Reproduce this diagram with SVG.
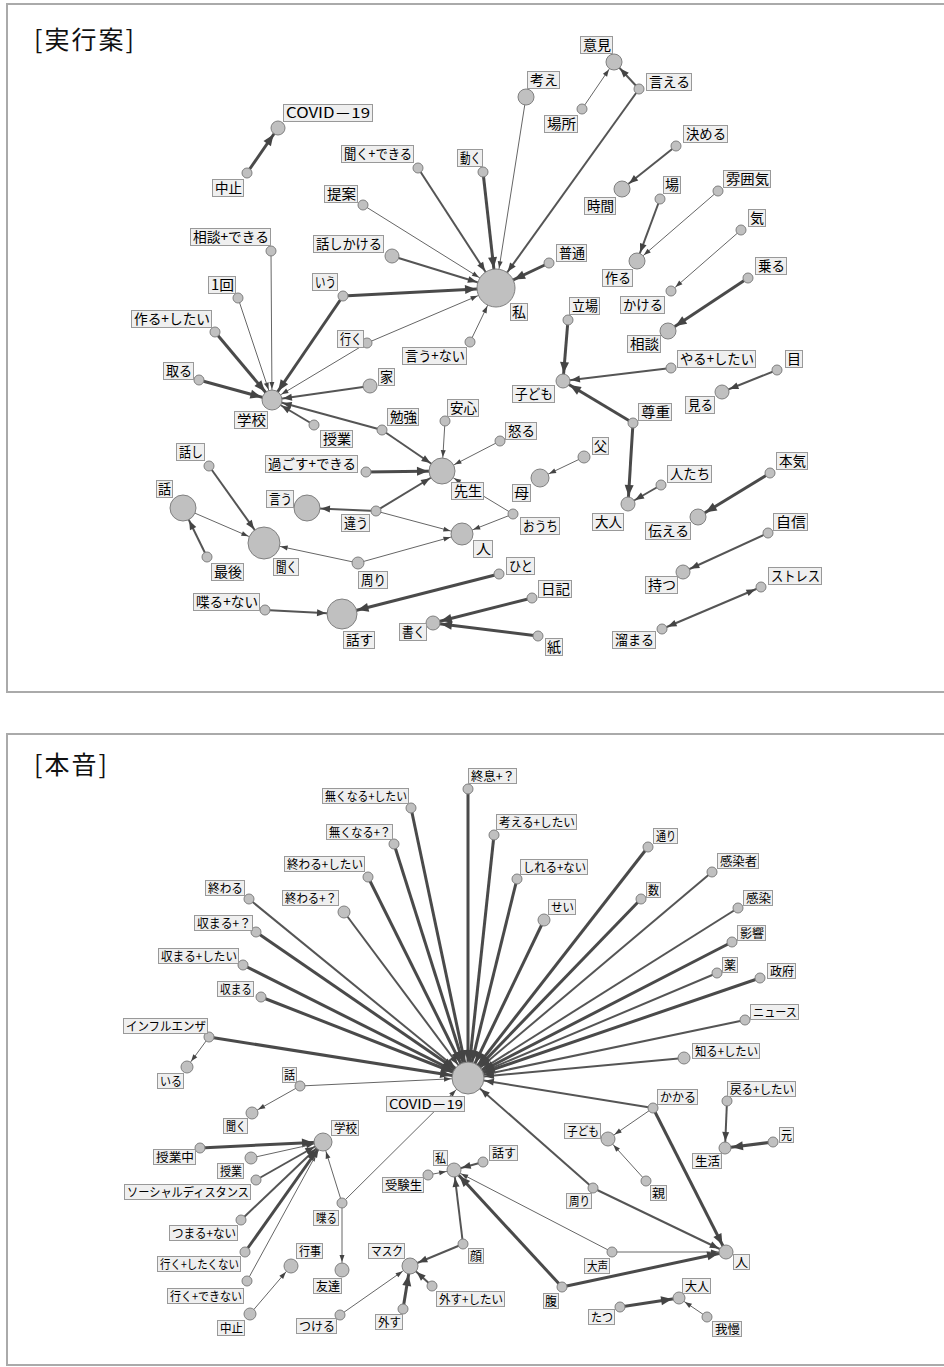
<svg xmlns="http://www.w3.org/2000/svg" width="944" height="1367" viewBox="0 0 944 1367">
<style>
.panel{fill:#fff;stroke:#aaa;stroke-width:2}
.title{font-family:"Noto Sans CJK JP","Noto Sans",sans-serif;font-size:25px;letter-spacing:2px;fill:#111}
.s{stroke:#666;stroke-width:1;fill:none}
.m{stroke:#555;stroke-width:2;fill:none}
.l{stroke:#4a4a4a;stroke-width:3;fill:none}
marker path{fill:#444;stroke:none}
.nd{fill:#c0c0c0;stroke:#808080;stroke-width:1}
.node rect{fill:#efefef;stroke:#999;stroke-width:1}
.node text{font-family:"Noto Sans CJK JP","Noto Sans",sans-serif;font-size:14px;fill:#000}
.b text{font-size:12.5px}
</style>
<defs>
<marker id="s5" markerUnits="userSpaceOnUse" orient="auto-start-reverse" refX="6" refY="0" markerWidth="1" markerHeight="1" style="overflow:visible"><path d="M0,0L-7,-2.5L-7,2.5Z"/></marker>
<marker id="s6" markerUnits="userSpaceOnUse" orient="auto-start-reverse" refX="7" refY="0" markerWidth="1" markerHeight="1" style="overflow:visible"><path d="M0,0L-7,-2.5L-7,2.5Z"/></marker>
<marker id="s7" markerUnits="userSpaceOnUse" orient="auto-start-reverse" refX="8" refY="0" markerWidth="1" markerHeight="1" style="overflow:visible"><path d="M0,0L-7,-2.5L-7,2.5Z"/></marker>
<marker id="s8" markerUnits="userSpaceOnUse" orient="auto-start-reverse" refX="9" refY="0" markerWidth="1" markerHeight="1" style="overflow:visible"><path d="M0,0L-7,-2.5L-7,2.5Z"/></marker>
<marker id="s9" markerUnits="userSpaceOnUse" orient="auto-start-reverse" refX="10" refY="0" markerWidth="1" markerHeight="1" style="overflow:visible"><path d="M0,0L-7,-2.5L-7,2.5Z"/></marker>
<marker id="s10" markerUnits="userSpaceOnUse" orient="auto-start-reverse" refX="11" refY="0" markerWidth="1" markerHeight="1" style="overflow:visible"><path d="M0,0L-7,-2.5L-7,2.5Z"/></marker>
<marker id="s11" markerUnits="userSpaceOnUse" orient="auto-start-reverse" refX="12" refY="0" markerWidth="1" markerHeight="1" style="overflow:visible"><path d="M0,0L-7,-2.5L-7,2.5Z"/></marker>
<marker id="s13" markerUnits="userSpaceOnUse" orient="auto-start-reverse" refX="14" refY="0" markerWidth="1" markerHeight="1" style="overflow:visible"><path d="M0,0L-7,-2.5L-7,2.5Z"/></marker>
<marker id="s16" markerUnits="userSpaceOnUse" orient="auto-start-reverse" refX="17" refY="0" markerWidth="1" markerHeight="1" style="overflow:visible"><path d="M0,0L-7,-2.5L-7,2.5Z"/></marker>
<marker id="s19" markerUnits="userSpaceOnUse" orient="auto-start-reverse" refX="20" refY="0" markerWidth="1" markerHeight="1" style="overflow:visible"><path d="M0,0L-7,-2.5L-7,2.5Z"/></marker>
<marker id="m5" markerUnits="userSpaceOnUse" orient="auto-start-reverse" refX="6" refY="0" markerWidth="1" markerHeight="1" style="overflow:visible"><path d="M0,0L-9,-3.5L-9,3.5Z"/></marker>
<marker id="m6" markerUnits="userSpaceOnUse" orient="auto-start-reverse" refX="7" refY="0" markerWidth="1" markerHeight="1" style="overflow:visible"><path d="M0,0L-9,-3.5L-9,3.5Z"/></marker>
<marker id="m7" markerUnits="userSpaceOnUse" orient="auto-start-reverse" refX="8" refY="0" markerWidth="1" markerHeight="1" style="overflow:visible"><path d="M0,0L-9,-3.5L-9,3.5Z"/></marker>
<marker id="m8" markerUnits="userSpaceOnUse" orient="auto-start-reverse" refX="9" refY="0" markerWidth="1" markerHeight="1" style="overflow:visible"><path d="M0,0L-9,-3.5L-9,3.5Z"/></marker>
<marker id="m9" markerUnits="userSpaceOnUse" orient="auto-start-reverse" refX="10" refY="0" markerWidth="1" markerHeight="1" style="overflow:visible"><path d="M0,0L-9,-3.5L-9,3.5Z"/></marker>
<marker id="m10" markerUnits="userSpaceOnUse" orient="auto-start-reverse" refX="11" refY="0" markerWidth="1" markerHeight="1" style="overflow:visible"><path d="M0,0L-9,-3.5L-9,3.5Z"/></marker>
<marker id="m13" markerUnits="userSpaceOnUse" orient="auto-start-reverse" refX="14" refY="0" markerWidth="1" markerHeight="1" style="overflow:visible"><path d="M0,0L-9,-3.5L-9,3.5Z"/></marker>
<marker id="m15" markerUnits="userSpaceOnUse" orient="auto-start-reverse" refX="16" refY="0" markerWidth="1" markerHeight="1" style="overflow:visible"><path d="M0,0L-9,-3.5L-9,3.5Z"/></marker>
<marker id="m16" markerUnits="userSpaceOnUse" orient="auto-start-reverse" refX="17" refY="0" markerWidth="1" markerHeight="1" style="overflow:visible"><path d="M0,0L-9,-3.5L-9,3.5Z"/></marker>
<marker id="m19" markerUnits="userSpaceOnUse" orient="auto-start-reverse" refX="20" refY="0" markerWidth="1" markerHeight="1" style="overflow:visible"><path d="M0,0L-9,-3.5L-9,3.5Z"/></marker>
<marker id="l6" markerUnits="userSpaceOnUse" orient="auto-start-reverse" refX="7" refY="0" markerWidth="1" markerHeight="1" style="overflow:visible"><path d="M0,0L-11,-4.5L-11,4.5Z"/></marker>
<marker id="l7" markerUnits="userSpaceOnUse" orient="auto-start-reverse" refX="8" refY="0" markerWidth="1" markerHeight="1" style="overflow:visible"><path d="M0,0L-11,-4.5L-11,4.5Z"/></marker>
<marker id="l8" markerUnits="userSpaceOnUse" orient="auto-start-reverse" refX="9" refY="0" markerWidth="1" markerHeight="1" style="overflow:visible"><path d="M0,0L-11,-4.5L-11,4.5Z"/></marker>
<marker id="l9" markerUnits="userSpaceOnUse" orient="auto-start-reverse" refX="10" refY="0" markerWidth="1" markerHeight="1" style="overflow:visible"><path d="M0,0L-11,-4.5L-11,4.5Z"/></marker>
<marker id="l10" markerUnits="userSpaceOnUse" orient="auto-start-reverse" refX="11" refY="0" markerWidth="1" markerHeight="1" style="overflow:visible"><path d="M0,0L-11,-4.5L-11,4.5Z"/></marker>
<marker id="l13" markerUnits="userSpaceOnUse" orient="auto-start-reverse" refX="14" refY="0" markerWidth="1" markerHeight="1" style="overflow:visible"><path d="M0,0L-11,-4.5L-11,4.5Z"/></marker>
<marker id="l15" markerUnits="userSpaceOnUse" orient="auto-start-reverse" refX="16" refY="0" markerWidth="1" markerHeight="1" style="overflow:visible"><path d="M0,0L-11,-4.5L-11,4.5Z"/></marker>
<marker id="l16" markerUnits="userSpaceOnUse" orient="auto-start-reverse" refX="17" refY="0" markerWidth="1" markerHeight="1" style="overflow:visible"><path d="M0,0L-11,-4.5L-11,4.5Z"/></marker>
<marker id="l19" markerUnits="userSpaceOnUse" orient="auto-start-reverse" refX="20" refY="0" markerWidth="1" markerHeight="1" style="overflow:visible"><path d="M0,0L-11,-4.5L-11,4.5Z"/></marker>
</defs>
<rect width="944" height="1367" fill="#fff"/>
<rect class="panel" x="7" y="4" width="950" height="688"/>
<rect class="panel" x="7" y="734" width="950" height="631"/>
<text class="title" x="34" y="49">[実行案]</text>
<text class="title" x="34" y="774">[本音]</text>

<g id="connectors">
<line class="l" x1="247" y1="173" x2="278" y2="128" marker-end="url(#l7)"/>
<line class="s" x1="582" y1="109" x2="614" y2="62" marker-end="url(#s8)"/>
<line class="m" x1="639" y1="89" x2="614" y2="62" marker-end="url(#m8)"/>
<line class="m" x1="639" y1="89" x2="496" y2="288" marker-end="url(#m19)"/>
<line class="s" x1="526" y1="97" x2="496" y2="288" marker-end="url(#s19)"/>
<line class="m" x1="418" y1="168" x2="496" y2="288" marker-end="url(#m19)"/>
<line class="l" x1="483" y1="172" x2="496" y2="288" marker-end="url(#l19)"/>
<line class="s" x1="363" y1="205" x2="496" y2="288" marker-end="url(#s19)"/>
<line class="m" x1="392" y1="256" x2="496" y2="288" marker-end="url(#m19)"/>
<line class="l" x1="343" y1="296" x2="496" y2="288" marker-end="url(#l19)"/>
<line class="s" x1="367" y1="343" x2="496" y2="288" marker-end="url(#s19)"/>
<line class="s" x1="470" y1="342" x2="496" y2="288" marker-end="url(#s19)"/>
<line class="l" x1="549" y1="263" x2="496" y2="288" marker-end="url(#l19)"/>
<line class="m" x1="676" y1="146" x2="622" y2="189" marker-end="url(#m8)"/>
<line class="m" x1="660" y1="199" x2="637" y2="261" marker-end="url(#m8)"/>
<line class="s" x1="718" y1="191" x2="637" y2="261" marker-end="url(#s8)"/>
<line class="s" x1="741" y1="230" x2="671" y2="291" marker-end="url(#s5)"/>
<line class="l" x1="748" y1="278" x2="668" y2="331" marker-end="url(#l8)"/>
<line class="l" x1="568" y1="320" x2="563" y2="381" marker-end="url(#l7)"/>
<line class="m" x1="671" y1="368" x2="563" y2="381" marker-end="url(#m7)"/>
<line class="l" x1="633" y1="423" x2="563" y2="381" marker-end="url(#l7)"/>
<line class="l" x1="633" y1="423" x2="628" y2="504" marker-end="url(#l7)"/>
<line class="m" x1="661" y1="485" x2="628" y2="504" marker-end="url(#m7)"/>
<line class="m" x1="777" y1="370" x2="722" y2="392" marker-end="url(#m7)"/>
<line class="l" x1="770" y1="473" x2="698" y2="517" marker-end="url(#l8)"/>
<line class="m" x1="768" y1="533" x2="683" y2="572" marker-end="url(#m7)"/>
<line class="m" x1="662" y1="629" x2="761" y2="587" marker-start="url(#m5)" marker-end="url(#m5)"/>
<line class="s" x1="271" y1="251" x2="272" y2="400" marker-end="url(#s10)"/>
<line class="s" x1="238" y1="298" x2="272" y2="400" marker-end="url(#s10)"/>
<line class="l" x1="215" y1="332" x2="272" y2="400" marker-end="url(#l10)"/>
<line class="l" x1="199" y1="380" x2="272" y2="400" marker-end="url(#l10)"/>
<line class="l" x1="343" y1="296" x2="272" y2="400" marker-end="url(#l10)"/>
<line class="s" x1="367" y1="343" x2="272" y2="400" marker-end="url(#s10)"/>
<line class="m" x1="370" y1="386" x2="272" y2="400" marker-end="url(#m10)"/>
<line class="m" x1="382" y1="430" x2="272" y2="400" marker-end="url(#m10)"/>
<line class="m" x1="314" y1="425" x2="272" y2="400" marker-end="url(#m10)"/>
<line class="m" x1="382" y1="430" x2="442" y2="471" marker-end="url(#m13)"/>
<line class="s" x1="445" y1="421" x2="442" y2="471" marker-end="url(#s13)"/>
<line class="s" x1="500" y1="441" x2="442" y2="471" marker-end="url(#s13)"/>
<line class="l" x1="366" y1="472" x2="442" y2="471" marker-end="url(#l13)"/>
<line class="m" x1="376" y1="511" x2="442" y2="471" marker-end="url(#m13)"/>
<line class="s" x1="513" y1="514" x2="442" y2="471" marker-end="url(#s13)"/>
<line class="m" x1="376" y1="511" x2="307" y2="508" marker-end="url(#m13)"/>
<line class="s" x1="376" y1="511" x2="462" y2="534" marker-end="url(#s11)"/>
<line class="s" x1="513" y1="514" x2="462" y2="534" marker-end="url(#s11)"/>
<line class="s" x1="358" y1="563" x2="462" y2="534" marker-end="url(#s11)"/>
<line class="s" x1="358" y1="563" x2="264" y2="543" marker-end="url(#s16)"/>
<line class="m" x1="209" y1="466" x2="264" y2="543" marker-end="url(#m16)"/>
<line class="s" x1="183" y1="508" x2="264" y2="543" marker-end="url(#s16)"/>
<line class="m" x1="207" y1="557" x2="183" y2="508" marker-end="url(#m13)"/>
<line class="m" x1="265" y1="610" x2="342" y2="614" marker-end="url(#m15)"/>
<line class="l" x1="499" y1="574" x2="342" y2="614" marker-end="url(#l15)"/>
<line class="l" x1="532" y1="598" x2="433" y2="623" marker-end="url(#l7)"/>
<line class="l" x1="538" y1="636" x2="433" y2="623" marker-end="url(#l7)"/>
<line class="s" x1="584" y1="457" x2="540" y2="478" marker-end="url(#s9)"/>

<line class="l" x1="468" y1="789" x2="468" y2="1078" marker-end="url(#l16)"/>
<line class="l" x1="411" y1="808" x2="468" y2="1078" marker-end="url(#l16)"/>
<line class="l" x1="394" y1="844" x2="468" y2="1078" marker-end="url(#l16)"/>
<line class="l" x1="368" y1="877" x2="468" y2="1078" marker-end="url(#l16)"/>
<line class="m" x1="344" y1="912" x2="468" y2="1078" marker-end="url(#m16)"/>
<line class="m" x1="249" y1="899" x2="468" y2="1078" marker-end="url(#m16)"/>
<line class="l" x1="256" y1="932" x2="468" y2="1078" marker-end="url(#l16)"/>
<line class="l" x1="243" y1="965" x2="468" y2="1078" marker-end="url(#l16)"/>
<line class="l" x1="261" y1="997" x2="468" y2="1078" marker-end="url(#l16)"/>
<line class="l" x1="209" y1="1037" x2="468" y2="1078" marker-end="url(#l16)"/>
<line class="l" x1="494" y1="835" x2="468" y2="1078" marker-end="url(#l16)"/>
<line class="l" x1="517" y1="879" x2="468" y2="1078" marker-end="url(#l16)"/>
<line class="l" x1="544" y1="920" x2="468" y2="1078" marker-end="url(#l16)"/>
<line class="l" x1="648" y1="847" x2="468" y2="1078" marker-end="url(#l16)"/>
<line class="m" x1="712" y1="872" x2="468" y2="1078" marker-end="url(#m16)"/>
<line class="l" x1="641" y1="899" x2="468" y2="1078" marker-end="url(#l16)"/>
<line class="m" x1="738" y1="908" x2="468" y2="1078" marker-end="url(#m16)"/>
<line class="l" x1="732" y1="942" x2="468" y2="1078" marker-end="url(#l16)"/>
<line class="m" x1="717" y1="973" x2="468" y2="1078" marker-end="url(#m16)"/>
<line class="l" x1="760" y1="978" x2="468" y2="1078" marker-end="url(#l16)"/>
<line class="m" x1="745" y1="1020" x2="468" y2="1078" marker-end="url(#m16)"/>
<line class="m" x1="684" y1="1058" x2="468" y2="1078" marker-end="url(#m16)"/>
<line class="m" x1="653" y1="1108" x2="468" y2="1078" marker-end="url(#m16)"/>
<line class="s" x1="300" y1="1086" x2="468" y2="1078" marker-end="url(#s16)"/>
<line class="m" x1="593" y1="1188" x2="468" y2="1078" marker-end="url(#m16)"/>
<line class="s" x1="342" y1="1203" x2="468" y2="1078" marker-end="url(#s16)"/>
<line class="s" x1="209" y1="1037" x2="187" y2="1067" marker-end="url(#s6)"/>
<line class="s" x1="300" y1="1086" x2="252" y2="1113" marker-end="url(#s6)"/>
<line class="l" x1="200" y1="1148" x2="323" y2="1142" marker-end="url(#l9)"/>
<line class="s" x1="251" y1="1158" x2="323" y2="1142" marker-end="url(#s9)"/>
<line class="m" x1="256" y1="1180" x2="323" y2="1142" marker-end="url(#m9)"/>
<line class="m" x1="241" y1="1220" x2="323" y2="1142" marker-end="url(#m9)"/>
<line class="l" x1="245" y1="1252" x2="323" y2="1142" marker-end="url(#l9)"/>
<line class="s" x1="247" y1="1281" x2="323" y2="1142" marker-end="url(#s9)"/>
<line class="s" x1="342" y1="1203" x2="323" y2="1142" marker-end="url(#s9)"/>
<line class="s" x1="342" y1="1203" x2="342" y2="1270" marker-end="url(#s7)"/>
<line class="s" x1="250" y1="1314" x2="291" y2="1266" marker-end="url(#s7)"/>
<line class="m" x1="483" y1="1162" x2="454" y2="1170" marker-end="url(#m7)"/>
<line class="s" x1="428" y1="1175" x2="454" y2="1170" marker-end="url(#s7)"/>
<line class="m" x1="463" y1="1244" x2="454" y2="1170" marker-end="url(#m7)"/>
<line class="l" x1="562" y1="1287" x2="454" y2="1170" marker-end="url(#l7)"/>
<line class="s" x1="612" y1="1252" x2="454" y2="1170" marker-end="url(#s7)"/>
<line class="m" x1="463" y1="1244" x2="410" y2="1266" marker-end="url(#m8)"/>
<line class="m" x1="432" y1="1286" x2="410" y2="1266" marker-end="url(#m8)"/>
<line class="l" x1="403" y1="1309" x2="410" y2="1266" marker-end="url(#l8)"/>
<line class="s" x1="340" y1="1315" x2="410" y2="1266" marker-end="url(#s8)"/>
<line class="m" x1="593" y1="1188" x2="726" y2="1252" marker-end="url(#m7)"/>
<line class="s" x1="612" y1="1252" x2="726" y2="1252" marker-end="url(#s7)"/>
<line class="l" x1="562" y1="1287" x2="726" y2="1252" marker-end="url(#l7)"/>
<line class="l" x1="653" y1="1108" x2="726" y2="1252" marker-end="url(#l7)"/>
<line class="s" x1="653" y1="1108" x2="608" y2="1139" marker-end="url(#s7)"/>
<line class="s" x1="646" y1="1181" x2="608" y2="1139" marker-end="url(#s7)"/>
<line class="m" x1="727" y1="1101" x2="725" y2="1148" marker-end="url(#m6)"/>
<line class="l" x1="773" y1="1142" x2="725" y2="1148" marker-end="url(#l6)"/>
<line class="l" x1="620" y1="1307" x2="679" y2="1298" marker-end="url(#l6)"/>
<line class="s" x1="707" y1="1317" x2="679" y2="1298" marker-end="url(#s6)"/>
</g>

<g id="nodes-top">
<g id="t1" class="node"><circle class="nd" cx="278" cy="128" r="7"/><rect x="283.5" y="104.5" width="89" height="17"/><text x="286" y="118" textLength="84" lengthAdjust="spacingAndGlyphs">COVID－19</text></g>
<g id="t2" class="node"><circle class="nd" cx="247" cy="173" r="5"/><rect x="212.5" y="179.5" width="31" height="17"/><text x="215" y="193" textLength="27" lengthAdjust="spacingAndGlyphs">中止</text></g>
<g id="t3" class="node"><circle class="nd" cx="614" cy="62" r="8"/><rect x="580.5" y="36.5" width="32" height="17"/><text x="583" y="50" textLength="28" lengthAdjust="spacingAndGlyphs">意見</text></g>
<g id="t4" class="node"><circle class="nd" cx="526" cy="97" r="8"/><rect x="527.5" y="71.5" width="32" height="17"/><text x="530" y="85" textLength="28" lengthAdjust="spacingAndGlyphs">考え</text></g>
<g id="t5" class="node"><circle class="nd" cx="582" cy="109" r="5"/><rect x="544.5" y="115.5" width="33" height="17"/><text x="547" y="129" textLength="29" lengthAdjust="spacingAndGlyphs">場所</text></g>
<g id="t6" class="node"><circle class="nd" cx="639" cy="89" r="5"/><rect x="646.5" y="73.5" width="45" height="17"/><text x="649" y="87" textLength="41" lengthAdjust="spacingAndGlyphs">言える</text></g>
<g id="t7" class="node"><circle class="nd" cx="418" cy="168" r="5"/><rect x="341.5" y="145.5" width="72" height="17"/><text x="344" y="159" textLength="68" lengthAdjust="spacingAndGlyphs">聞く+できる</text></g>
<g id="t8" class="node"><circle class="nd" cx="483" cy="172" r="5"/><rect x="457.5" y="149.5" width="25" height="17"/><text x="460" y="163" textLength="21" lengthAdjust="spacingAndGlyphs">動く</text></g>
<g id="t9" class="node"><circle class="nd" cx="363" cy="205" r="5"/><rect x="324.5" y="185.5" width="33" height="17"/><text x="327" y="199" textLength="29" lengthAdjust="spacingAndGlyphs">提案</text></g>
<g id="t10" class="node"><circle class="nd" cx="392" cy="256" r="7"/><rect x="313.5" y="235.5" width="70" height="17"/><text x="316" y="249" textLength="66" lengthAdjust="spacingAndGlyphs">話しかける</text></g>
<g id="t11" class="node"><circle class="nd" cx="496" cy="288" r="19"/><rect x="510.5" y="303.5" width="17" height="17"/><text x="512" y="317" textLength="14" lengthAdjust="spacingAndGlyphs">私</text></g>
<g id="t12" class="node"><circle class="nd" cx="549" cy="263" r="5"/><rect x="556.5" y="244.5" width="30" height="17"/><text x="559" y="258" textLength="26" lengthAdjust="spacingAndGlyphs">普通</text></g>
<g id="t13" class="node"><circle class="nd" cx="343" cy="296" r="5"/><rect x="312.5" y="273.5" width="25" height="17"/><text x="315" y="287" textLength="21" lengthAdjust="spacingAndGlyphs">いう</text></g>
<g id="t14" class="node"><circle class="nd" cx="622" cy="189" r="8"/><rect x="584.5" y="197.5" width="31" height="17"/><text x="587" y="211" textLength="27" lengthAdjust="spacingAndGlyphs">時間</text></g>
<g id="t15" class="node"><circle class="nd" cx="568" cy="320" r="5"/><rect x="569.5" y="297.5" width="30" height="17"/><text x="572" y="311" textLength="26" lengthAdjust="spacingAndGlyphs">立場</text></g>
<g id="t16" class="node"><circle class="nd" cx="676" cy="146" r="5"/><rect x="683.5" y="125.5" width="44" height="17"/><text x="686" y="139" textLength="40" lengthAdjust="spacingAndGlyphs">決める</text></g>
<g id="t17" class="node"><circle class="nd" cx="660" cy="199" r="5"/><rect x="663.5" y="176.5" width="17" height="17"/><text x="665" y="190" textLength="14" lengthAdjust="spacingAndGlyphs">場</text></g>
<g id="t18" class="node"><circle class="nd" cx="637" cy="261" r="8"/><rect x="602.5" y="269.5" width="30" height="17"/><text x="605" y="283" textLength="26" lengthAdjust="spacingAndGlyphs">作る</text></g>
<g id="t19" class="node"><circle class="nd" cx="718" cy="191" r="5"/><rect x="723.5" y="170.5" width="47" height="17"/><text x="726" y="184" textLength="43" lengthAdjust="spacingAndGlyphs">雰囲気</text></g>
<g id="t20" class="node"><circle class="nd" cx="741" cy="230" r="5"/><rect x="748.5" y="209.5" width="17" height="17"/><text x="750" y="223" textLength="14" lengthAdjust="spacingAndGlyphs">気</text></g>
<g id="t21" class="node"><circle class="nd" cx="748" cy="278" r="5"/><rect x="755.5" y="257.5" width="31" height="17"/><text x="758" y="271" textLength="27" lengthAdjust="spacingAndGlyphs">乗る</text></g>
<g id="t22" class="node"><circle class="nd" cx="671" cy="291" r="5"/><rect x="620.5" y="296.5" width="44" height="17"/><text x="623" y="310" textLength="40" lengthAdjust="spacingAndGlyphs">かける</text></g>
<g id="t23" class="node"><circle class="nd" cx="668" cy="331" r="8"/><rect x="627.5" y="335.5" width="33" height="17"/><text x="630" y="349" textLength="29" lengthAdjust="spacingAndGlyphs">相談</text></g>
<g id="t24" class="node"><circle class="nd" cx="671" cy="368" r="5"/><rect x="677.5" y="350.5" width="78" height="17"/><text x="680" y="364" textLength="74" lengthAdjust="spacingAndGlyphs">やる+したい</text></g>
<g id="t25" class="node"><circle class="nd" cx="777" cy="370" r="5"/><rect x="785.5" y="350.5" width="17" height="17"/><text x="787" y="364" textLength="14" lengthAdjust="spacingAndGlyphs">目</text></g>
<g id="t26" class="node"><circle class="nd" cx="722" cy="392" r="7"/><rect x="685.5" y="396.5" width="29" height="17"/><text x="688" y="410" textLength="25" lengthAdjust="spacingAndGlyphs">見る</text></g>
<g id="t27" class="node"><circle class="nd" cx="633" cy="423" r="5"/><rect x="638.5" y="403.5" width="33" height="17"/><text x="641" y="417" textLength="29" lengthAdjust="spacingAndGlyphs">尊重</text></g>
<g id="t28" class="node"><circle class="nd" cx="661" cy="485" r="5"/><rect x="667.5" y="465.5" width="44" height="17"/><text x="670" y="479" textLength="40" lengthAdjust="spacingAndGlyphs">人たち</text></g>
<g id="t29" class="node"><circle class="nd" cx="770" cy="473" r="5"/><rect x="776.5" y="452.5" width="31" height="17"/><text x="779" y="466" textLength="27" lengthAdjust="spacingAndGlyphs">本気</text></g>
<g id="t30" class="node"><circle class="nd" cx="698" cy="517" r="8"/><rect x="645.5" y="522.5" width="45" height="17"/><text x="648" y="536" textLength="41" lengthAdjust="spacingAndGlyphs">伝える</text></g>
<g id="t31" class="node"><circle class="nd" cx="768" cy="533" r="5"/><rect x="773.5" y="513.5" width="34" height="17"/><text x="776" y="527" textLength="30" lengthAdjust="spacingAndGlyphs">自信</text></g>
<g id="t32" class="node"><circle class="nd" cx="683" cy="572" r="7"/><rect x="645.5" y="576.5" width="32" height="17"/><text x="648" y="590" textLength="28" lengthAdjust="spacingAndGlyphs">持つ</text></g>
<g id="t33" class="node"><circle class="nd" cx="761" cy="587" r="5"/><rect x="768.5" y="567.5" width="53" height="17"/><text x="771" y="581" textLength="49" lengthAdjust="spacingAndGlyphs">ストレス</text></g>
<g id="t34" class="node"><circle class="nd" cx="662" cy="629" r="5"/><rect x="612.5" y="631.5" width="43" height="17"/><text x="615" y="645" textLength="39" lengthAdjust="spacingAndGlyphs">溜まる</text></g>
<g id="t35" class="node"><circle class="nd" cx="271" cy="251" r="5"/><rect x="190.5" y="228.5" width="80" height="17"/><text x="193" y="242" textLength="76" lengthAdjust="spacingAndGlyphs">相談+できる</text></g>
<g id="t36" class="node"><circle class="nd" cx="238" cy="298" r="5"/><rect x="208.5" y="276.5" width="27" height="17"/><text x="211" y="290" textLength="23" lengthAdjust="spacingAndGlyphs">1回</text></g>
<g id="t37" class="node"><circle class="nd" cx="215" cy="332" r="5"/><rect x="131.5" y="310.5" width="80" height="17"/><text x="134" y="324" textLength="76" lengthAdjust="spacingAndGlyphs">作る+したい</text></g>
<g id="t38" class="node"><circle class="nd" cx="199" cy="380" r="5"/><rect x="163.5" y="362.5" width="30" height="17"/><text x="166" y="376" textLength="26" lengthAdjust="spacingAndGlyphs">取る</text></g>
<g id="t39" class="node"><circle class="nd" cx="272" cy="400" r="10"/><rect x="234.5" y="411.5" width="33" height="17"/><text x="237" y="425" textLength="29" lengthAdjust="spacingAndGlyphs">学校</text></g>
<g id="t40" class="node"><circle class="nd" cx="314" cy="425" r="5"/><rect x="320.5" y="430.5" width="32" height="17"/><text x="323" y="444" textLength="28" lengthAdjust="spacingAndGlyphs">授業</text></g>
<g id="t41" class="node"><circle class="nd" cx="209" cy="466" r="5"/><rect x="176.5" y="443.5" width="28" height="17"/><text x="179" y="457" textLength="24" lengthAdjust="spacingAndGlyphs">話し</text></g>
<g id="t42" class="node"><circle class="nd" cx="183" cy="508" r="13"/><rect x="156.5" y="480.5" width="16" height="17"/><text x="158" y="494" textLength="13" lengthAdjust="spacingAndGlyphs">話</text></g>
<g id="t43" class="node"><circle class="nd" cx="264" cy="543" r="16"/><rect x="273.5" y="558.5" width="25" height="17"/><text x="276" y="572" textLength="21" lengthAdjust="spacingAndGlyphs">聞く</text></g>
<g id="t44" class="node"><circle class="nd" cx="207" cy="557" r="5"/><rect x="211.5" y="563.5" width="32" height="17"/><text x="214" y="577" textLength="28" lengthAdjust="spacingAndGlyphs">最後</text></g>
<g id="t45" class="node"><circle class="nd" cx="265" cy="610" r="5"/><rect x="193.5" y="593.5" width="66" height="17"/><text x="196" y="607" textLength="62" lengthAdjust="spacingAndGlyphs">喋る+ない</text></g>
<g id="t46" class="node"><circle class="nd" cx="307" cy="508" r="13"/><rect x="266.5" y="490.5" width="27" height="17"/><text x="269" y="504" textLength="23" lengthAdjust="spacingAndGlyphs">言う</text></g>
<g id="t47" class="node"><circle class="nd" cx="366" cy="472" r="5"/><rect x="265.5" y="455.5" width="92" height="17"/><text x="268" y="469" textLength="88" lengthAdjust="spacingAndGlyphs">過ごす+できる</text></g>
<g id="t48" class="node"><circle class="nd" cx="442" cy="471" r="13"/><rect x="451.5" y="482.5" width="32" height="17"/><text x="454" y="496" textLength="28" lengthAdjust="spacingAndGlyphs">先生</text></g>
<g id="t49" class="node"><circle class="nd" cx="445" cy="421" r="5"/><rect x="447.5" y="399.5" width="31" height="17"/><text x="450" y="413" textLength="27" lengthAdjust="spacingAndGlyphs">安心</text></g>
<g id="t50" class="node"><circle class="nd" cx="500" cy="441" r="5"/><rect x="505.5" y="422.5" width="31" height="17"/><text x="508" y="436" textLength="27" lengthAdjust="spacingAndGlyphs">怒る</text></g>
<g id="t51" class="node"><circle class="nd" cx="382" cy="430" r="5"/><rect x="387.5" y="408.5" width="31" height="17"/><text x="390" y="422" textLength="27" lengthAdjust="spacingAndGlyphs">勉強</text></g>
<g id="t52" class="node"><circle class="nd" cx="370" cy="386" r="7"/><rect x="378.5" y="368.5" width="16" height="17"/><text x="380" y="382" textLength="13" lengthAdjust="spacingAndGlyphs">家</text></g>
<g id="t53" class="node"><circle class="nd" cx="470" cy="342" r="5"/><rect x="402.5" y="347.5" width="64" height="17"/><text x="405" y="361" textLength="60" lengthAdjust="spacingAndGlyphs">言う+ない</text></g>
<g id="t54" class="node"><circle class="nd" cx="367" cy="343" r="5"/><rect x="337.5" y="330.5" width="26" height="17"/><text x="340" y="344" textLength="22" lengthAdjust="spacingAndGlyphs">行く</text></g>
<g id="t55" class="node"><circle class="nd" cx="563" cy="381" r="7"/><rect x="512.5" y="385.5" width="42" height="17"/><text x="515" y="399" textLength="38" lengthAdjust="spacingAndGlyphs">子ども</text></g>
<g id="t56" class="node"><circle class="nd" cx="584" cy="457" r="6"/><rect x="592.5" y="437.5" width="16" height="17"/><text x="594" y="451" textLength="13" lengthAdjust="spacingAndGlyphs">父</text></g>
<g id="t57" class="node"><circle class="nd" cx="540" cy="478" r="9"/><rect x="512.5" y="484.5" width="18" height="17"/><text x="514" y="498" textLength="15" lengthAdjust="spacingAndGlyphs">母</text></g>
<g id="t58" class="node"><circle class="nd" cx="376" cy="511" r="5"/><rect x="341.5" y="514.5" width="28" height="17"/><text x="344" y="528" textLength="24" lengthAdjust="spacingAndGlyphs">違う</text></g>
<g id="t59" class="node"><circle class="nd" cx="513" cy="514" r="5"/><rect x="520.5" y="517.5" width="39" height="17"/><text x="523" y="531" textLength="35" lengthAdjust="spacingAndGlyphs">おうち</text></g>
<g id="t60" class="node"><circle class="nd" cx="462" cy="534" r="11"/><rect x="473.5" y="540.5" width="19" height="17"/><text x="476" y="554" textLength="15" lengthAdjust="spacingAndGlyphs">人</text></g>
<g id="t61" class="node"><circle class="nd" cx="358" cy="563" r="6"/><rect x="358.5" y="571.5" width="29" height="17"/><text x="361" y="585" textLength="25" lengthAdjust="spacingAndGlyphs">周り</text></g>
<g id="t62" class="node"><circle class="nd" cx="499" cy="574" r="5"/><rect x="506.5" y="557.5" width="28" height="17"/><text x="509" y="571" textLength="24" lengthAdjust="spacingAndGlyphs">ひと</text></g>
<g id="t63" class="node"><circle class="nd" cx="342" cy="614" r="15"/><rect x="343.5" y="631.5" width="31" height="17"/><text x="346" y="645" textLength="27" lengthAdjust="spacingAndGlyphs">話す</text></g>
<g id="t64" class="node"><circle class="nd" cx="532" cy="598" r="5"/><rect x="538.5" y="580.5" width="33" height="17"/><text x="541" y="594" textLength="29" lengthAdjust="spacingAndGlyphs">日記</text></g>
<g id="t65" class="node"><circle class="nd" cx="433" cy="623" r="7"/><rect x="399.5" y="623.5" width="27" height="17"/><text x="402" y="637" textLength="23" lengthAdjust="spacingAndGlyphs">書く</text></g>
<g id="t66" class="node"><circle class="nd" cx="538" cy="636" r="5"/><rect x="545.5" y="638.5" width="17" height="17"/><text x="547" y="652" textLength="14" lengthAdjust="spacingAndGlyphs">紙</text></g>
<g id="t67" class="node"><circle class="nd" cx="628" cy="504" r="7"/><rect x="592.5" y="513.5" width="31" height="17"/><text x="595" y="527" textLength="27" lengthAdjust="spacingAndGlyphs">大人</text></g>
</g>

<g id="nodes-bottom">
<g id="b1" class="node b"><circle class="nd" cx="468" cy="1078" r="16"/><rect x="386.5" y="1096.5" width="78" height="15"/><text x="389" y="1108.5" textLength="74" lengthAdjust="spacingAndGlyphs">COVID－19</text></g>
<g id="b2" class="node b"><circle class="nd" cx="468" cy="789" r="5"/><rect x="468.5" y="768.5" width="48" height="15"/><text x="471" y="780.5" textLength="44" lengthAdjust="spacingAndGlyphs">終息+？</text></g>
<g id="b3" class="node b"><circle class="nd" cx="411" cy="808" r="5"/><rect x="322.5" y="788.5" width="86" height="15"/><text x="325" y="800.5" textLength="82" lengthAdjust="spacingAndGlyphs">無くなる+したい</text></g>
<g id="b4" class="node b"><circle class="nd" cx="394" cy="844" r="5"/><rect x="326.5" y="824.5" width="66" height="15"/><text x="329" y="836.5" textLength="62" lengthAdjust="spacingAndGlyphs">無くなる+？</text></g>
<g id="b5" class="node b"><circle class="nd" cx="368" cy="877" r="5"/><rect x="284.5" y="856.5" width="80" height="15"/><text x="287" y="868.5" textLength="76" lengthAdjust="spacingAndGlyphs">終わる+したい</text></g>
<g id="b6" class="node b"><circle class="nd" cx="344" cy="912" r="6"/><rect x="282.5" y="890.5" width="56" height="15"/><text x="285" y="902.5" textLength="52" lengthAdjust="spacingAndGlyphs">終わる+？</text></g>
<g id="b7" class="node b"><circle class="nd" cx="249" cy="899" r="5"/><rect x="205.5" y="880.5" width="39" height="15"/><text x="208" y="892.5" textLength="35" lengthAdjust="spacingAndGlyphs">終わる</text></g>
<g id="b8" class="node b"><circle class="nd" cx="256" cy="932" r="5"/><rect x="194.5" y="915.5" width="58" height="15"/><text x="197" y="927.5" textLength="54" lengthAdjust="spacingAndGlyphs">収まる+？</text></g>
<g id="b9" class="node b"><circle class="nd" cx="243" cy="965" r="5"/><rect x="158.5" y="948.5" width="80" height="15"/><text x="161" y="960.5" textLength="76" lengthAdjust="spacingAndGlyphs">収まる+したい</text></g>
<g id="b10" class="node b"><circle class="nd" cx="261" cy="997" r="5"/><rect x="217.5" y="981.5" width="36" height="15"/><text x="220" y="993.5" textLength="32" lengthAdjust="spacingAndGlyphs">収まる</text></g>
<g id="b11" class="node b"><circle class="nd" cx="209" cy="1037" r="5"/><rect x="123.5" y="1018.5" width="84" height="15"/><text x="126" y="1030.5" textLength="80" lengthAdjust="spacingAndGlyphs">インフルエンザ</text></g>
<g id="b12" class="node b"><circle class="nd" cx="494" cy="835" r="5"/><rect x="496.5" y="814.5" width="80" height="15"/><text x="499" y="826.5" textLength="76" lengthAdjust="spacingAndGlyphs">考える+したい</text></g>
<g id="b13" class="node b"><circle class="nd" cx="517" cy="879" r="5"/><rect x="520.5" y="859.5" width="67" height="15"/><text x="523" y="871.5" textLength="63" lengthAdjust="spacingAndGlyphs">しれる+ない</text></g>
<g id="b14" class="node b"><circle class="nd" cx="544" cy="920" r="6"/><rect x="548.5" y="899.5" width="27" height="15"/><text x="551" y="911.5" textLength="23" lengthAdjust="spacingAndGlyphs">せい</text></g>
<g id="b15" class="node b"><circle class="nd" cx="648" cy="847" r="5"/><rect x="653.5" y="828.5" width="24" height="15"/><text x="656" y="840.5" textLength="20" lengthAdjust="spacingAndGlyphs">通り</text></g>
<g id="b16" class="node b"><circle class="nd" cx="712" cy="872" r="5"/><rect x="717.5" y="853.5" width="41" height="15"/><text x="720" y="865.5" textLength="37" lengthAdjust="spacingAndGlyphs">感染者</text></g>
<g id="b17" class="node b"><circle class="nd" cx="641" cy="899" r="5"/><rect x="646.5" y="882.5" width="14" height="15"/><text x="648" y="894.5" textLength="11" lengthAdjust="spacingAndGlyphs">数</text></g>
<g id="b18" class="node b"><circle class="nd" cx="738" cy="908" r="5"/><rect x="743.5" y="890.5" width="29" height="15"/><text x="746" y="902.5" textLength="25" lengthAdjust="spacingAndGlyphs">感染</text></g>
<g id="b19" class="node b"><circle class="nd" cx="732" cy="942" r="5"/><rect x="737.5" y="925.5" width="28" height="15"/><text x="740" y="937.5" textLength="24" lengthAdjust="spacingAndGlyphs">影響</text></g>
<g id="b20" class="node b"><circle class="nd" cx="717" cy="973" r="5"/><rect x="722.5" y="957.5" width="15" height="15"/><text x="724" y="969.5" textLength="12" lengthAdjust="spacingAndGlyphs">薬</text></g>
<g id="b21" class="node b"><circle class="nd" cx="760" cy="978" r="5"/><rect x="767.5" y="963.5" width="28" height="15"/><text x="770" y="975.5" textLength="24" lengthAdjust="spacingAndGlyphs">政府</text></g>
<g id="b22" class="node b"><circle class="nd" cx="745" cy="1020" r="5"/><rect x="750.5" y="1004.5" width="48" height="15"/><text x="753" y="1016.5" textLength="44" lengthAdjust="spacingAndGlyphs">ニュース</text></g>
<g id="b23" class="node b"><circle class="nd" cx="684" cy="1058" r="6"/><rect x="692.5" y="1043.5" width="67" height="15"/><text x="695" y="1055.5" textLength="63" lengthAdjust="spacingAndGlyphs">知る+したい</text></g>
<g id="b24" class="node b"><circle class="nd" cx="653" cy="1108" r="5"/><rect x="657.5" y="1089.5" width="40" height="15"/><text x="660" y="1101.5" textLength="36" lengthAdjust="spacingAndGlyphs">かかる</text></g>
<g id="b25" class="node b"><circle class="nd" cx="727" cy="1101" r="5"/><rect x="727.5" y="1081.5" width="68" height="15"/><text x="730" y="1093.5" textLength="64" lengthAdjust="spacingAndGlyphs">戻る+したい</text></g>
<g id="b26" class="node b"><circle class="nd" cx="773" cy="1142" r="5"/><rect x="779.5" y="1127.5" width="14" height="15"/><text x="781" y="1139.5" textLength="11" lengthAdjust="spacingAndGlyphs">元</text></g>
<g id="b27" class="node b"><circle class="nd" cx="725" cy="1148" r="6"/><rect x="692.5" y="1153.5" width="29" height="15"/><text x="695" y="1165.5" textLength="25" lengthAdjust="spacingAndGlyphs">生活</text></g>
<g id="b28" class="node b"><circle class="nd" cx="646" cy="1181" r="5"/><rect x="650.5" y="1185.5" width="16" height="15"/><text x="652" y="1197.5" textLength="13" lengthAdjust="spacingAndGlyphs">親</text></g>
<g id="b29" class="node b"><circle class="nd" cx="726" cy="1252" r="7"/><rect x="733.5" y="1254.5" width="16" height="15"/><text x="735" y="1266.5" textLength="13" lengthAdjust="spacingAndGlyphs">人</text></g>
<g id="b30" class="node b"><circle class="nd" cx="679" cy="1298" r="6"/><rect x="682.5" y="1278.5" width="28" height="15"/><text x="685" y="1290.5" textLength="24" lengthAdjust="spacingAndGlyphs">大人</text></g>
<g id="b31" class="node b"><circle class="nd" cx="707" cy="1317" r="5"/><rect x="712.5" y="1321.5" width="29" height="15"/><text x="715" y="1333.5" textLength="25" lengthAdjust="spacingAndGlyphs">我慢</text></g>
<g id="b32" class="node b"><circle class="nd" cx="608" cy="1139" r="7"/><rect x="564.5" y="1123.5" width="36" height="15"/><text x="567" y="1135.5" textLength="32" lengthAdjust="spacingAndGlyphs">子ども</text></g>
<g id="b33" class="node b"><circle class="nd" cx="593" cy="1188" r="5"/><rect x="566.5" y="1193.5" width="25" height="15"/><text x="569" y="1205.5" textLength="21" lengthAdjust="spacingAndGlyphs">周り</text></g>
<g id="b34" class="node b"><circle class="nd" cx="454" cy="1170" r="7"/><rect x="433.5" y="1150.5" width="14" height="15"/><text x="435" y="1162.5" textLength="11" lengthAdjust="spacingAndGlyphs">私</text></g>
<g id="b35" class="node b"><circle class="nd" cx="483" cy="1162" r="5"/><rect x="489.5" y="1145.5" width="28" height="15"/><text x="492" y="1157.5" textLength="24" lengthAdjust="spacingAndGlyphs">話す</text></g>
<g id="b36" class="node b"><circle class="nd" cx="428" cy="1175" r="5"/><rect x="382.5" y="1177.5" width="41" height="15"/><text x="385" y="1189.5" textLength="37" lengthAdjust="spacingAndGlyphs">受験生</text></g>
<g id="b37" class="node b"><circle class="nd" cx="323" cy="1142" r="9"/><rect x="331.5" y="1120.5" width="27" height="15"/><text x="334" y="1132.5" textLength="23" lengthAdjust="spacingAndGlyphs">学校</text></g>
<g id="b38" class="node b"><circle class="nd" cx="342" cy="1203" r="5"/><rect x="313.5" y="1210.5" width="25" height="15"/><text x="316" y="1222.5" textLength="21" lengthAdjust="spacingAndGlyphs">喋る</text></g>
<g id="b39" class="node b"><circle class="nd" cx="342" cy="1270" r="7"/><rect x="313.5" y="1278.5" width="28" height="15"/><text x="316" y="1290.5" textLength="24" lengthAdjust="spacingAndGlyphs">友達</text></g>
<g id="b40" class="node b"><circle class="nd" cx="463" cy="1244" r="5"/><rect x="468.5" y="1248.5" width="15" height="15"/><text x="470" y="1260.5" textLength="12" lengthAdjust="spacingAndGlyphs">顔</text></g>
<g id="b41" class="node b"><circle class="nd" cx="410" cy="1266" r="8"/><rect x="368.5" y="1243.5" width="36" height="15"/><text x="371" y="1255.5" textLength="32" lengthAdjust="spacingAndGlyphs">マスク</text></g>
<g id="b42" class="node b"><circle class="nd" cx="432" cy="1286" r="5"/><rect x="436.5" y="1291.5" width="68" height="15"/><text x="439" y="1303.5" textLength="64" lengthAdjust="spacingAndGlyphs">外す+したい</text></g>
<g id="b43" class="node b"><circle class="nd" cx="403" cy="1309" r="5"/><rect x="375.5" y="1314.5" width="27" height="15"/><text x="378" y="1326.5" textLength="23" lengthAdjust="spacingAndGlyphs">外す</text></g>
<g id="b44" class="node b"><circle class="nd" cx="340" cy="1315" r="5"/><rect x="296.5" y="1318.5" width="40" height="15"/><text x="299" y="1330.5" textLength="36" lengthAdjust="spacingAndGlyphs">つける</text></g>
<g id="b45" class="node b"><circle class="nd" cx="612" cy="1252" r="5"/><rect x="584.5" y="1258.5" width="25" height="15"/><text x="587" y="1270.5" textLength="21" lengthAdjust="spacingAndGlyphs">大声</text></g>
<g id="b46" class="node b"><circle class="nd" cx="562" cy="1287" r="5"/><rect x="543.5" y="1293.5" width="15" height="15"/><text x="545" y="1305.5" textLength="12" lengthAdjust="spacingAndGlyphs">腹</text></g>
<g id="b47" class="node b"><circle class="nd" cx="620" cy="1307" r="5"/><rect x="588.5" y="1309.5" width="26" height="15"/><text x="591" y="1321.5" textLength="22" lengthAdjust="spacingAndGlyphs">たつ</text></g>
<g id="b48" class="node b"><circle class="nd" cx="187" cy="1067" r="6"/><rect x="157.5" y="1073.5" width="26" height="15"/><text x="160" y="1085.5" textLength="22" lengthAdjust="spacingAndGlyphs">いる</text></g>
<g id="b49" class="node b"><circle class="nd" cx="300" cy="1086" r="5"/><rect x="282.5" y="1067.5" width="14" height="15"/><text x="284" y="1079.5" textLength="11" lengthAdjust="spacingAndGlyphs">話</text></g>
<g id="b50" class="node b"><circle class="nd" cx="252" cy="1113" r="6"/><rect x="223.5" y="1118.5" width="24" height="15"/><text x="226" y="1130.5" textLength="20" lengthAdjust="spacingAndGlyphs">聞く</text></g>
<g id="b51" class="node b"><circle class="nd" cx="200" cy="1148" r="5"/><rect x="153.5" y="1149.5" width="42" height="15"/><text x="156" y="1161.5" textLength="38" lengthAdjust="spacingAndGlyphs">授業中</text></g>
<g id="b52" class="node b"><circle class="nd" cx="251" cy="1158" r="6"/><rect x="217.5" y="1163.5" width="26" height="15"/><text x="220" y="1175.5" textLength="22" lengthAdjust="spacingAndGlyphs">授業</text></g>
<g id="b53" class="node b"><circle class="nd" cx="256" cy="1180" r="5"/><rect x="124.5" y="1184.5" width="126" height="15"/><text x="127" y="1196.5" textLength="122" lengthAdjust="spacingAndGlyphs">ソーシャルディスタンス</text></g>
<g id="b54" class="node b"><circle class="nd" cx="241" cy="1220" r="5"/><rect x="169.5" y="1225.5" width="68" height="15"/><text x="172" y="1237.5" textLength="64" lengthAdjust="spacingAndGlyphs">つまる+ない</text></g>
<g id="b55" class="node b"><circle class="nd" cx="245" cy="1252" r="5"/><rect x="157.5" y="1256.5" width="83" height="15"/><text x="160" y="1268.5" textLength="79" lengthAdjust="spacingAndGlyphs">行く+したくない</text></g>
<g id="b56" class="node b"><circle class="nd" cx="247" cy="1281" r="5"/><rect x="167.5" y="1288.5" width="76" height="15"/><text x="170" y="1300.5" textLength="72" lengthAdjust="spacingAndGlyphs">行く+できない</text></g>
<g id="b57" class="node b"><circle class="nd" cx="250" cy="1314" r="6"/><rect x="217.5" y="1320.5" width="27" height="15"/><text x="220" y="1332.5" textLength="23" lengthAdjust="spacingAndGlyphs">中止</text></g>
<g id="b58" class="node b"><circle class="nd" cx="291" cy="1266" r="7"/><rect x="296.5" y="1243.5" width="26" height="15"/><text x="299" y="1255.5" textLength="22" lengthAdjust="spacingAndGlyphs">行事</text></g>
</g>
</svg>
